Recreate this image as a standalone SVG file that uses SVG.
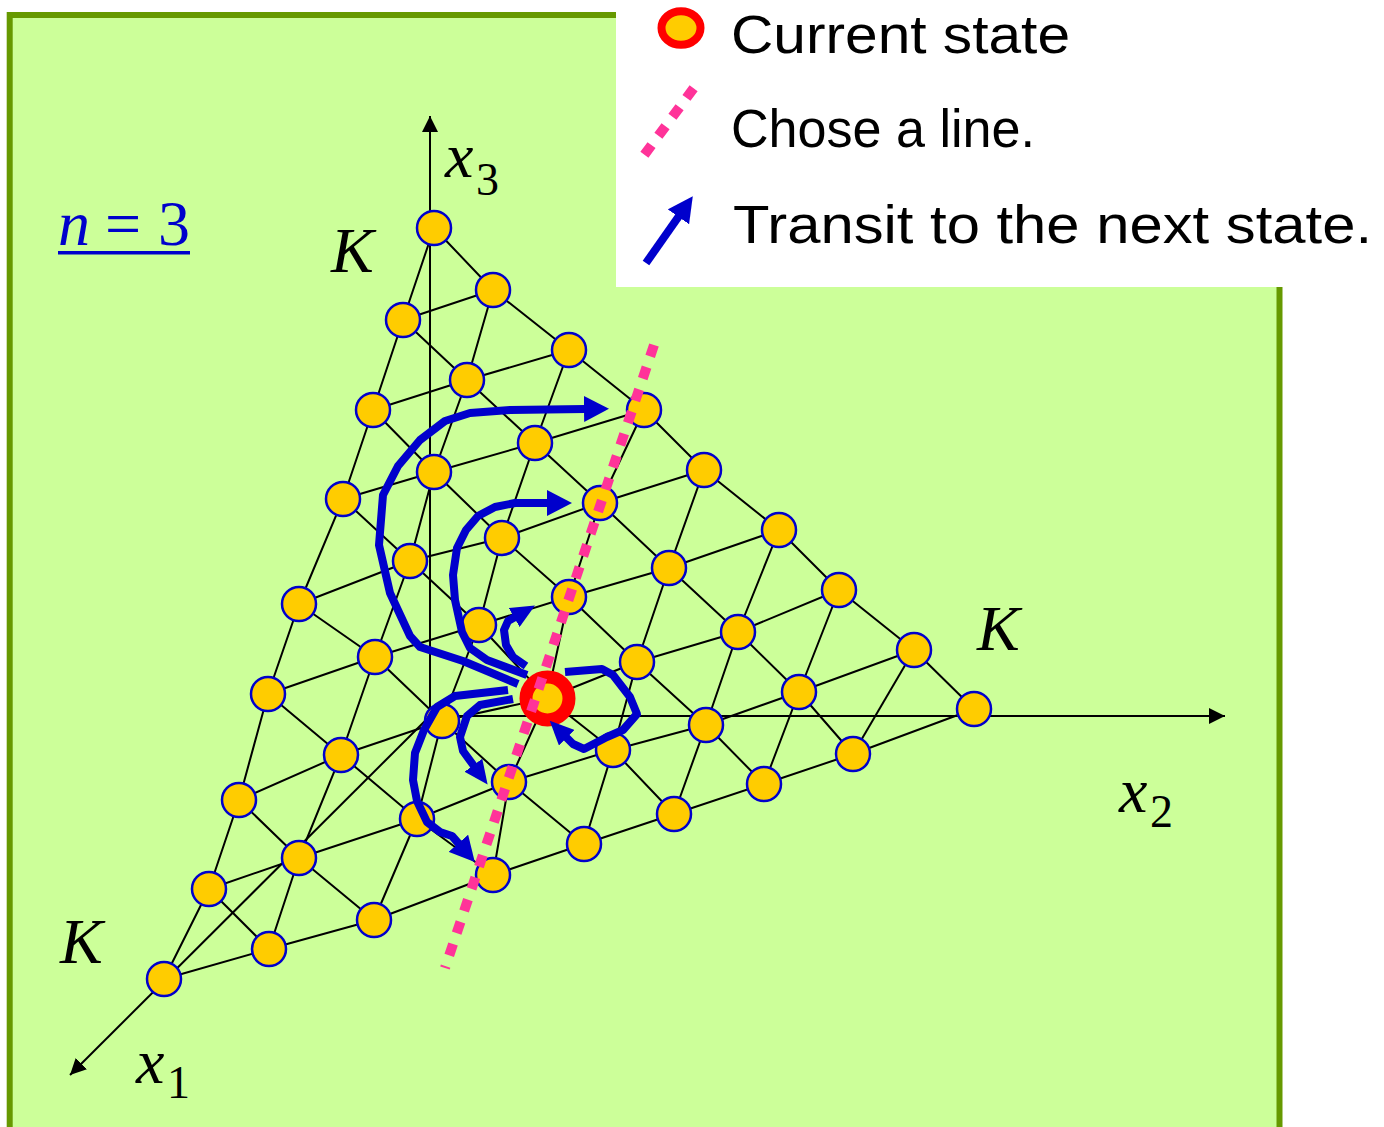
<svg xmlns="http://www.w3.org/2000/svg" width="1384" height="1127" viewBox="0 0 1384 1127">
<style>
.node{fill:#FFCC00;stroke:#0000CC;stroke-width:2.5}
.grid{fill:none;stroke:#000;stroke-width:2;stroke-linejoin:round}
.axis{fill:none;stroke:#000;stroke-width:2}
.move{fill:none;stroke:#0000CC;stroke-width:8;stroke-linejoin:round;stroke-linecap:butt}
.pink{fill:none;stroke:#FF3399;stroke-width:10;stroke-dasharray:12 11.4}
.math{font-family:"Liberation Serif","Times New Roman",serif;font-size:64px;fill:#000}
.it{font-style:italic}
.sub{font-family:"Liberation Serif","Times New Roman",serif;font-size:46px;fill:#000}
.leg{font-family:"Liberation Sans",Arial,sans-serif;font-size:54px;fill:#000}
</style>
<defs>
<marker id="axhead" markerUnits="userSpaceOnUse" viewBox="0 0 16 16" markerWidth="16" markerHeight="16" refX="16" refY="8" orient="auto">
<path d="M0,0 L16,8 L0,16 z" fill="#000"/>
</marker>
<marker id="bighead" markerUnits="userSpaceOnUse" viewBox="0 0 25 26" markerWidth="25" markerHeight="26" refX="1" refY="13" orient="auto">
<path d="M0,0 L25,13 L0,26 z" fill="#0000CC"/>
</marker>
<marker id="smallhead" markerUnits="userSpaceOnUse" viewBox="0 0 24 22" markerWidth="24" markerHeight="22" refX="1" refY="11" orient="auto">
<path d="M0,0 L24,11 L0,22 z" fill="#0000CC"/>
</marker>
</defs>

<!-- panel -->
<rect x="9.7" y="15" width="1269.8" height="1140" fill="#CCFF99" stroke="#669900" stroke-width="6"/>

<!-- legend -->
<g id="legend">
<rect x="616" y="0" width="768" height="287" fill="#FFFFFF"/>
<ellipse cx="681" cy="28" rx="19.5" ry="16.8" fill="#FFCC00" stroke="#FF0000" stroke-width="8"/>
<path class="pink" d="M693.6,88.2 L644.4,154.8" style="stroke-dasharray:12 11.6"/>
<path class="move" d="M646,263 L679,216" marker-end="url(#bighead)"/>
<text class="leg" x="731" y="53" textLength="339" lengthAdjust="spacingAndGlyphs">Current state</text>
<text class="leg" x="731" y="147" textLength="304" lengthAdjust="spacingAndGlyphs">Chose a line.</text>
<text class="leg" x="733" y="243" textLength="639" lengthAdjust="spacingAndGlyphs">Transit to the next state.</text>
</g>

<!-- axes -->
<g id="axes">
<line class="axis" x1="430" y1="716" x2="430" y2="116" marker-end="url(#axhead)"/>
<line class="axis" x1="430" y1="716" x2="1225" y2="716" marker-end="url(#axhead)"/>
<line class="axis" x1="430" y1="716" x2="70" y2="1075" marker-end="url(#axhead)"/>
</g>

<!-- lattice lines -->
<g id="lattice">
<polyline class="grid" points="403,320 493,290"/>
<polyline class="grid" points="373,410 467,380 569,350"/>
<polyline class="grid" points="343,499 434,472 535,443 644,410"/>
<polyline class="grid" points="299,604 410,561 502,538 600,503 704,470"/>
<polyline class="grid" points="268,694 375,657 479,625 569,597 669,568 779,530"/>
<polyline class="grid" points="239,800 341,755 442,721 547,698 637,662 738,632 839,590"/>
<polyline class="grid" points="209,889 299,858 417,819 509,782 613,750 706,725 799,692 914,650"/>
<polyline class="grid" points="164,979 269,949 374,920 493,875 584,844 674,814 764,784 853,754 974,709"/>
<polyline class="grid" points="434,228 403,320 373,410 343,499 299,604 268,694 239,800 209,889 164,979"/>
<polyline class="grid" points="493,290 467,380 434,472 410,561 375,657 341,755 299,858 269,949"/>
<polyline class="grid" points="569,350 535,443 502,538 479,625 442,721 417,819 374,920"/>
<polyline class="grid" points="644,410 600,503 569,597 547,698 509,782 493,875"/>
<polyline class="grid" points="704,470 669,568 637,662 613,750 584,844"/>
<polyline class="grid" points="779,530 738,632 706,725 674,814"/>
<polyline class="grid" points="839,590 799,692 764,784"/>
<polyline class="grid" points="914,650 853,754"/>
<polyline class="grid" points="434,228 493,290 569,350 644,410 704,470 779,530 839,590 914,650 974,709"/>
<polyline class="grid" points="403,320 467,380 535,443 600,503 669,568 738,632 799,692 853,754"/>
<polyline class="grid" points="373,410 434,472 502,538 569,597 637,662 706,725 764,784"/>
<polyline class="grid" points="343,499 410,561 479,625 547,698 613,750 674,814"/>
<polyline class="grid" points="299,604 375,657 442,721 509,782 584,844"/>
<polyline class="grid" points="268,694 341,755 417,819 493,875"/>
<polyline class="grid" points="239,800 299,858 374,920"/>
<polyline class="grid" points="209,889 269,949"/>
</g>

<!-- nodes -->
<g id="n008"><circle class="node" cx="434" cy="228" r="17"/></g>
<g id="n107"><circle class="node" cx="403" cy="320" r="17"/></g>
<g id="n017"><circle class="node" cx="493" cy="290" r="17"/></g>
<g id="n206"><circle class="node" cx="373" cy="410" r="17"/></g>
<g id="n116"><circle class="node" cx="467" cy="380" r="17"/></g>
<g id="n026"><circle class="node" cx="569" cy="350" r="17"/></g>
<g id="n305"><circle class="node" cx="343" cy="499" r="17"/></g>
<g id="n215"><circle class="node" cx="434" cy="472" r="17"/></g>
<g id="n125"><circle class="node" cx="535" cy="443" r="17"/></g>
<g id="n035"><circle class="node" cx="644" cy="410" r="17"/></g>
<g id="n404"><circle class="node" cx="299" cy="604" r="17"/></g>
<g id="n314"><circle class="node" cx="410" cy="561" r="17"/></g>
<g id="n224"><circle class="node" cx="502" cy="538" r="17"/></g>
<g id="n134"><circle class="node" cx="600" cy="503" r="17"/></g>
<g id="n044"><circle class="node" cx="704" cy="470" r="17"/></g>
<g id="n503"><circle class="node" cx="268" cy="694" r="17"/></g>
<g id="n413"><circle class="node" cx="375" cy="657" r="17"/></g>
<g id="n323"><circle class="node" cx="479" cy="625" r="17"/></g>
<g id="n233"><circle class="node" cx="569" cy="597" r="17"/></g>
<g id="n143"><circle class="node" cx="669" cy="568" r="17"/></g>
<g id="n053"><circle class="node" cx="779" cy="530" r="17"/></g>
<g id="n602"><circle class="node" cx="239" cy="800" r="17"/></g>
<g id="n512"><circle class="node" cx="341" cy="755" r="17"/></g>
<g id="n422"><circle class="node" cx="442" cy="721" r="17"/></g>
<g id="n242"><circle class="node" cx="637" cy="662" r="17"/></g>
<g id="n152"><circle class="node" cx="738" cy="632" r="17"/></g>
<g id="n062"><circle class="node" cx="839" cy="590" r="17"/></g>
<g id="n701"><circle class="node" cx="209" cy="889" r="17"/></g>
<g id="n611"><circle class="node" cx="299" cy="858" r="17"/></g>
<g id="n521"><circle class="node" cx="417" cy="819" r="17"/></g>
<g id="n431"><circle class="node" cx="509" cy="782" r="17"/></g>
<g id="n341"><circle class="node" cx="613" cy="750" r="17"/></g>
<g id="n251"><circle class="node" cx="706" cy="725" r="17"/></g>
<g id="n161"><circle class="node" cx="799" cy="692" r="17"/></g>
<g id="n071"><circle class="node" cx="914" cy="650" r="17"/></g>
<g id="n800"><circle class="node" cx="164" cy="979" r="17"/></g>
<g id="n710"><circle class="node" cx="269" cy="949" r="17"/></g>
<g id="n620"><circle class="node" cx="374" cy="920" r="17"/></g>
<g id="n530"><circle class="node" cx="493" cy="875" r="17"/></g>
<g id="n440"><circle class="node" cx="584" cy="844" r="17"/></g>
<g id="n350"><circle class="node" cx="674" cy="814" r="17"/></g>
<g id="n260"><circle class="node" cx="764" cy="784" r="17"/></g>
<g id="n170"><circle class="node" cx="853" cy="754" r="17"/></g>
<g id="n080"><circle class="node" cx="974" cy="709" r="17"/></g>
<g id="current"><circle cx="547.5" cy="698.5" r="21.5" fill="#FFCC00" stroke="#FF0000" stroke-width="13"/></g>

<!-- transitions -->
<g id="connectors">
<path class="move" d="M518,684 L463,661 L420,647 L410,636 L390,593 L379,545 L383,495 L398,466 L420,440 L445,421 L470,413 L510,410 L585,409" marker-end="url(#bighead)"/>
<path class="move" d="M527,675 L487,660 L470,648 L462,632 L455,600 L453,575 L457,548 L466,530 L478,516 L495,507 L515,503 L548,503" marker-end="url(#bighead)"/>
<path class="move" d="M526,666 L513,657 L506,645 L504,630 L508,621 L515,617" marker-end="url(#smallhead)"/>
<path class="move" d="M508,690 L455,696 L437,707 L424,730 L415,753 L413,780 L417,801 L427,822 L440,832 L452,836 L459,844" marker-end="url(#bighead)"/>
<path class="move" d="M513,699 L480,705 L467,716 L460,737 L463,751 L474,766" marker-end="url(#smallhead)"/>
<path class="move" d="M565,672 L602,669 L613,675 L630,697 L637,714 L623,730 L607,737 L584,749 L573,744 L566,737" marker-end="url(#smallhead)"/>
<path class="pink" d="M654,345 L445,968"/>
</g>

<!-- labels -->
<g id="labels">
<text x="58" y="245" fill="#0000CC" style="font-family:'Liberation Serif','Times New Roman',serif;font-size:64px"><tspan font-style="italic">n</tspan></text>
<text x="105" y="245" fill="#0000CC" style="font-family:'Liberation Serif','Times New Roman',serif;font-size:64px">=</text>
<text x="158" y="245" fill="#0000CC" style="font-family:'Liberation Serif','Times New Roman',serif;font-size:64px">3</text>
<rect x="58" y="251" width="132" height="3.5" fill="#0000CC"/>
<text class="math it" x="331" y="272">K</text>
<text class="math it" x="977" y="650">K</text>
<text class="math it" x="60" y="963">K</text>
<text class="math it" x="445" y="177">x</text><text class="sub" x="476" y="195">3</text>
<text class="math it" x="1119" y="812">x</text><text class="sub" x="1150" y="827">2</text>
<text class="math it" x="136" y="1083">x</text><text class="sub" x="167" y="1098">1</text>
</g>
</svg>
